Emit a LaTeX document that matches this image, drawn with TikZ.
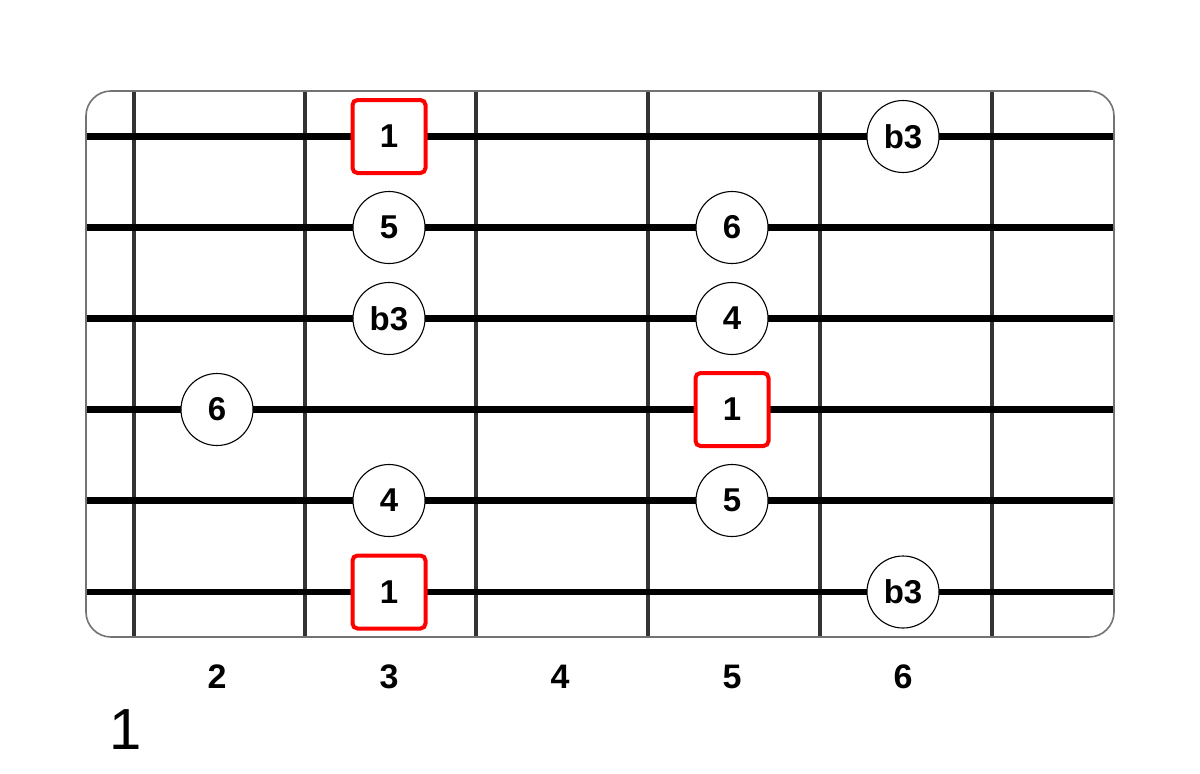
\documentclass[tikz,border=0pt]{standalone}
\usepackage{fontspec}
\setmainfont{Liberation Sans}
\begin{document}
\begin{tikzpicture}[x=1pt,y=-1pt,
  fretline/.style={line width=3.4pt, draw=black!80},
  stringline/.style={line width=6.5pt, draw=black},
  frame/.style={line width=1.6pt, draw=black!55, rounded corners=25pt},
  note/.style={circle, draw=black, line width=1.1pt, fill=white, minimum size=72pt, inner sep=0pt, font=\bfseries\fontsize{33}{33}\selectfont},
  root/.style={rectangle, rounded corners=5pt, draw=red, line width=4pt, fill=white, minimum size=73pt, inner sep=0pt, font=\bfseries\fontsize{33}{33}\selectfont},
  fretnum/.style={font=\bfseries\fontsize{34}{34}\selectfont, inner sep=0pt},
  posnum/.style={font=\fontsize{58}{58}\selectfont, inner sep=0pt}
]
\useasboundingbox (0,0) rectangle (1200,774);
% frets
\foreach \x in {134,305,476,648,820,992}
  \draw[fretline] (\x,91) -- (\x,637);
% strings
\foreach \y in {136.5,227.5,318.5,409.5,500.5,592}
  \draw[stringline] (86,\y) -- (1114,\y);
% frame
\draw[frame] (86,91) rectangle (1114,637);
% notes
\node[root] (s1a) at (389,136.5) {1};
\node[note] (s1b) at (903,136.5) {b3};
\node[note] (s2a) at (389,227.5) {5};
\node[note] (s2b) at (732,227.5) {6};
\node[note] (s3a) at (389,318.5) {b3};
\node[note] (s3b) at (732,318.5) {4};
\node[note] (s4a) at (217,409.5) {6};
\node[root] (s4b) at (732,409.5) {1};
\node[note] (s5a) at (389,500.5) {4};
\node[note] (s5b) at (732,500.5) {5};
\node[root] (s6a) at (389,592) {1};
\node[note] (s6b) at (903,592) {b3};
% fret numbers
\node[fretnum] (f2) at (217,677) {2};
\node[fretnum] (f3) at (389,677) {3};
\node[fretnum] (f4) at (560,677) {4};
\node[fretnum] (f5) at (732,677) {5};
\node[fretnum] (f6) at (903,677) {6};
% position number
\node[posnum] (pos) at (126,730) {1};
\end{tikzpicture}
\end{document}
